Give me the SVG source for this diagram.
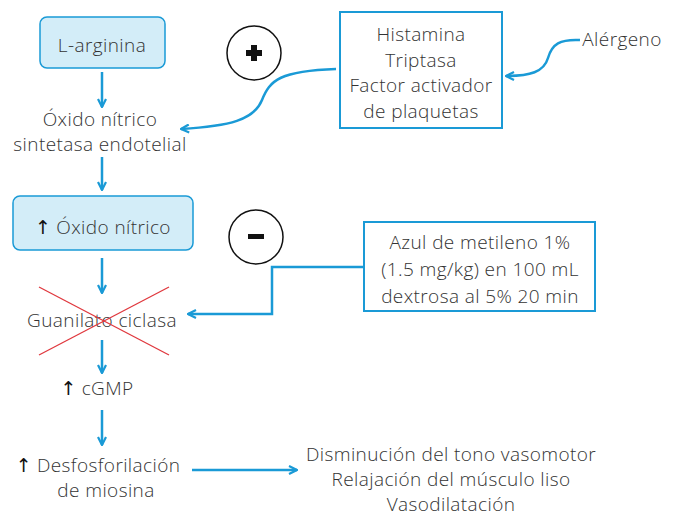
<svg xmlns="http://www.w3.org/2000/svg" width="677" height="517" viewBox="0 0 677 517">
<defs>
<style>
text{font-family:"Open Sans","Liberation Sans",sans-serif;font-weight:300;font-size:19px;letter-spacing:0.4px;fill:#333;text-anchor:middle}
.up{font-family:"DejaVu Sans",sans-serif;font-weight:400;fill:#111;letter-spacing:0}
.node{fill:#d3edf8;stroke:#1a9ad6;stroke-width:1.5}
.box{fill:#fff;stroke:#1a9ad6;stroke-width:2}
.c{fill:none;stroke:#1a9ad6;stroke-width:2.5}
.sign{fill:#fff;stroke:#111;stroke-width:1.5}
.x{stroke:#e0383e;stroke-width:1.3}
</style>
<marker id="ah" viewBox="0 0 10 10" refX="9" refY="5" markerWidth="10" markerHeight="10" markerUnits="userSpaceOnUse" orient="auto">
<path d="M1,1 L9,5 L1,9" fill="none" stroke="#1a9ad6" stroke-width="2.2"/>
</marker>
</defs>
<rect width="677" height="517" fill="#fff"/>
<g id="connectors">
<line class="c" x1="102" y1="72" x2="102" y2="107" marker-end="url(#ah)"/>
<line class="c" x1="102" y1="157" x2="102" y2="190" marker-end="url(#ah)"/>
<line class="c" x1="102" y1="258" x2="102" y2="293" marker-end="url(#ah)"/>
<line class="c" x1="102" y1="340" x2="102" y2="373" marker-end="url(#ah)"/>
<line class="c" x1="102" y1="410" x2="102" y2="445" marker-end="url(#ah)"/>
<line class="c" x1="192" y1="470" x2="297" y2="470" marker-end="url(#ah)"/>
<path class="c" d="M336,69 C280,71 270,80 262,100 C254,120 230,126 181,129" marker-end="url(#ah)"/>
<path class="c" d="M580,40 C560,39 552,44 548,58 C544,72 530,76 506,76" marker-end="url(#ah)"/>
<path class="c" d="M364,267 L272,267 L272,314 L188,314" marker-end="url(#ah)"/>
</g>
<g id="l-arginina">
<rect class="node" x="40" y="17" width="125" height="51" rx="7"/>
<text x="102" y="52">L-arginina</text>
</g>
<g id="oxido-sintetasa">
<text x="100" y="126">Óxido nítrico</text>
<text x="100" y="151">sintetasa endotelial</text>
</g>
<g id="oxido-nitrico">
<rect class="node" x="13" y="196" width="180" height="54" rx="7"/>
<text x="103" y="234"><tspan class="up">↑</tspan> Óxido nítrico</text>
</g>
<g id="guanilato">
<text x="102" y="327">Guanilato ciclasa</text>
<line class="x" x1="39" y1="287" x2="169" y2="355"/>
<line class="x" x1="39" y1="355" x2="169" y2="287"/>
</g>
<g id="cgmp">
<text x="97" y="395"><tspan class="up">↑</tspan> cGMP</text>
</g>
<g id="desfosforilacion">
<text x="98" y="472"><tspan class="up">↑</tspan> Desfosforilación</text>
<text x="106" y="497">de miosina</text>
</g>
<g id="efectos">
<text x="451" y="461">Disminución del tono vasomotor</text>
<text x="451" y="486">Relajación del músculo liso</text>
<text x="451" y="511">Vasodilatación</text>
</g>
<g id="mediadores">
<rect class="box" x="340" y="12" width="162" height="116"/>
<text x="421" y="41">Histamina</text>
<text x="421" y="67">Triptasa</text>
<text x="421" y="92">Factor activador</text>
<text x="421" y="118">de plaquetas</text>
</g>
<g id="alergeno">
<text x="622" y="46">Alérgeno</text>
</g>
<g id="plus">
<circle class="sign" cx="254" cy="53" r="27"/>
<path d="M251,45 h6 v5 h5 v6 h-5 v5 h-6 v-5 h-5 v-6 h5 z" fill="#111"/>
</g>
<g id="minus">
<circle class="sign" cx="256" cy="237" r="27"/>
<rect x="248" y="234" width="16" height="5" fill="#111"/>
</g>
<g id="azul">
<rect class="box" x="364" y="222" width="231" height="89"/>
<text x="480" y="249">Azul de metileno 1%</text>
<text x="480" y="276">(1.5 mg/kg) en 100 mL</text>
<text x="480" y="303">dextrosa al 5% 20 min</text>
</g>
</svg>
